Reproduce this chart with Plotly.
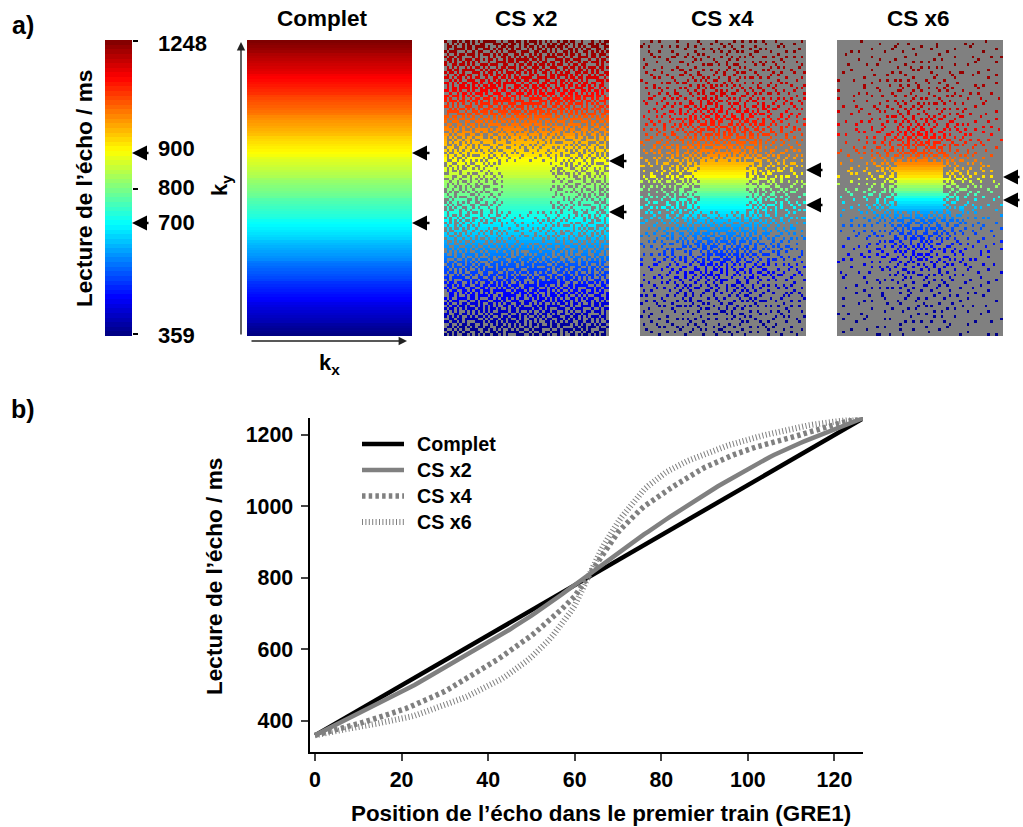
import plotly.graph_objects as go

# Echo readout time (ms) by echo position
COMPLET = [359,366,373,380,387,395,402,409,416,423,430,437,444,451,458,465,472,479,486,493,499,506,513,520,527,534,541,548,555,562,569,576,583,590,597,604,611,618,625,632,640,647,654,661,668,675,682,689,696,703,710,717,724,731,738,745,752,759,766,773,780,787,794,801,808,815,822,829,836,843,850,857,864,871,878,885,892,899,906,913,921,928,935,942,949,956,963,970,977,984,991,998,1005,1012,1019,1026,1033,1040,1047,1054,1061,1068,1075,1082,1089,1096,1103,1110,1117,1124,1131,1138,1145,1152,1159,1166,1173,1180,1187,1194,1200,1207,1214,1221,1228,1235,1241,1248]
CS_X2 = [359,365,371,377,383,389,395,401,407,413,420,426,432,438,444,450,456,462,468,474,480,487,493,500,507,514,520,527,534,541,548,555,561,568,575,582,589,596,603,610,617,624,632,640,648,655,663,670,678,686,694,702,710,718,727,735,744,753,762,771,780,788,796,804,813,822,831,840,850,860,870,878,887,895,904,912,921,929,938,946,954,962,970,978,986,994,1002,1010,1017,1025,1032,1040,1047,1055,1062,1069,1077,1084,1091,1098,1105,1112,1118,1125,1131,1137,1143,1149,1155,1160,1166,1171,1176,1181,1186,1191,1196,1201,1206,1211,1216,1221,1226,1230,1235,1239,1244,1248]
CS_X4 = [359,362,365,369,372,375,379,382,385,389,392,395,399,402,406,410,414,418,421,425,429,434,439,444,449,455,460,466,471,477,482,489,496,503,510,518,525,532,539,547,554,562,570,578,586,595,603,612,621,629,638,648,658,669,679,690,701,712,724,736,748,766,784,803,822,840,859,877,895,911,927,940,953,965,977,988,999,1008,1017,1025,1033,1041,1049,1057,1065,1072,1079,1087,1094,1101,1108,1114,1119,1125,1130,1135,1140,1145,1150,1155,1159,1163,1166,1169,1172,1176,1179,1182,1185,1189,1192,1196,1199,1203,1207,1210,1214,1218,1221,1225,1228,1231,1234,1237,1240,1243,1245,1248]
CS_X6 = [359,362,364,366,369,371,374,376,378,381,383,385,387,389,391,393,395,397,400,402,405,408,411,414,418,422,426,430,434,438,443,447,452,457,462,467,473,479,485,490,495,502,509,516,524,532,541,550,559,568,578,589,600,612,625,639,654,670,687,704,722,748,775,803,826,850,875,897,918,937,955,972,988,1004,1019,1033,1046,1057,1067,1077,1086,1094,1101,1108,1114,1120,1126,1131,1136,1141,1147,1151,1155,1159,1163,1168,1172,1176,1180,1184,1187,1190,1193,1196,1199,1202,1205,1209,1212,1214,1216,1218,1221,1223,1226,1228,1230,1232,1234,1236,1238,1240,1242,1243,1245,1246,1247,1248]
POSITIONS = list(range(128))
SERIES_NAMES = ["Complet", "CS x2", "CS x4", "CS x6"]

# Sampling density per distance band from the k-space centre, estimated from panel a
DENS_X2 = [.80,.80,.70,.62,.58,.55,.52,.50,.50,.48,.48,.48]
DENS_X4 = [.70,.70,.60,.48,.37,.28,.22,.17,.14,.12,.11,.10]
DENS_X6 = [.60,.60,.45,.30,.21,.15,.10,.07,.05,.045,.04,.04]

# Hand-typed placement tile: the exact mask cells cannot be read from the picture
TILE = [
 [ 36,193, 88,241, 12,150,205, 61,118,229, 20,171, 97,248, 45,134],
 [214,107,  3,165, 72,225, 29,183, 84,  7,142,210, 55,  9,190, 78],
 [ 58,158,232, 48,128, 96,246, 41,155,236, 66,112, 32,160,222,101],
 [251, 17, 91,199, 24,176, 10,122,217, 27,186, 76,238, 83, 14,174],
 [125,182, 70,139,254, 59,145, 87, 51,130, 94,  1,147,196, 63,234],
 [ 43,  5,220,109, 38,208, 79,243, 19,168,252,203, 46,116, 25,152],
 [196,136, 64,  0,162, 99,  6,178,111, 62, 35,124, 89,228,172, 74],
 [ 86,244, 30,188,119,226, 53,137,212, 81,156,  4,179, 15, 54,209],
 [ 22,113,153,218, 73, 16,192, 34, 67,240, 21,198, 68,133,247,105],
 [175, 60,249, 47,141, 90,127,231, 11,148,104,223, 39,185, 28,161],
 [ 95,201, 13,120,184, 33,255, 56,170, 92, 49,  8,255,100, 69,219],
 [235, 37,144, 75,  2,215,108, 23,200,126,239,166, 57,143,  0,129],
 [ 52,167,103,224,159, 44,151, 82,  9,213, 71, 31,121,206, 85,180],
 [202, 18,245, 65,115, 26,194,233,131, 42,154,187, 16,242, 40,110],
 [  6,140, 77,177,211, 98, 50, 14,102,250, 60, 93,227, 74,163,216],
 [123,237, 34,  1,146, 80,169,221, 35,173,117, 10,138, 29,106, 55],
]
SHIFT_X2 = [0, 5, 11, 3, 14, 7, 1, 9]
SHIFT_X4 = [4, 13, 2, 8, 0, 15, 6, 10]
SHIFT_X6 = [9, 1, 12, 6, 3, 11, 14, 2]

JET = [[0, "#000084"], [0.125, "#0000ff"], [0.375, "#00ffff"], [0.625, "#ffff00"], [0.875, "#ff0000"], [1, "#800000"]]
ZMIN, ZMAX = 359, 1248
FONT = "Liberation Sans"
W, H = 1023, 827
ROWS, COLS = 114, 64


def dx(a, b):
    return [a / W, b / W]


def dy(top, bottom):
    return [1 - bottom / H, 1 - top / H]


def panel_z(values, dens=None, shift=None):
    z = []
    for r in range(ROWS):
        row = []
        value = values[round(r * (len(values) - 1) / (ROWS - 1))]
        for c in range(COLS):
            keep = True
            if dens is not None and not (23 <= c <= 40 and 48 <= r <= 66):
                d = (((c - 31.5) / 32) ** 2 + ((r - 56.5) / 57) ** 2) ** 0.5
                band = min(int(d * 8), len(dens) - 1)
                t = TILE[(r + shift[c // 16]) % 16][(c + shift[r // 16]) % 16]
                keep = t < dens[band] * 256
            row.append(value if keep else None)
        z.append(row)
    return z


fig = go.Figure()
fig.update_layout(width=W, height=H, margin=dict(l=0, r=0, t=0, b=0), autosize=False,
                  paper_bgcolor="white", plot_bgcolor="white", showlegend=False,
                  font=dict(family=FONT, color="black"))

# Colour bar
levels = [353 + (i + 0.5) * (1251 - 353) / 64 for i in range(64)]
fig.add_trace(go.Heatmap(z=[[v] for v in levels], x=[0], y=levels, colorscale=JET, zmin=ZMIN, zmax=ZMAX,
                         showscale=False, xaxis="x", yaxis="y", hoverinfo="skip"))
fig.update_layout(
    xaxis=dict(domain=dx(105, 132), visible=False, fixedrange=True),
    yaxis=dict(domain=dy(40, 336), anchor="x", side="right", range=[353, 1251], tickvals=[359, 800, 1248],
               showticklabels=False, ticks="outside", ticklen=5, tickwidth=1.5, tickcolor="black",
               showgrid=False, zeroline=False, showline=False),
)

# k-space panels
panels = [
    (COMPLET, None, None, 247, 412),
    (CS_X2, DENS_X2, SHIFT_X2, 444, 609),
    (CS_X4, DENS_X4, SHIFT_X4, 640, 806),
    (CS_X6, DENS_X6, SHIFT_X6, 837, 1003),
]
shapes = []
for i, (vals, dens, shift, x0, x1) in enumerate(panels):
    n = i + 2
    fig.add_trace(go.Heatmap(z=panel_z(vals, dens, shift), colorscale=JET, zmin=ZMIN, zmax=ZMAX, showscale=False,
                             xaxis=f"x{n}", yaxis=f"y{n}", hoverongaps=False, hoverinfo="skip"))
    fig.layout[f"xaxis{n}"] = dict(domain=dx(x0, x1), visible=False, range=[-0.5, COLS - 0.5])
    fig.layout[f"yaxis{n}"] = dict(domain=dy(40, 336), visible=False, range=[-0.5, ROWS - 0.5], anchor=f"x{n}")
    shapes.append(dict(type="rect", xref="paper", yref="paper", x0=x0 / W, x1=x1 / W, y0=1 - 336 / H, y1=1 - 40 / H,
                       fillcolor="#808080", line_width=0, layer="below"))

# Panel b curves
styles = [
    (COMPLET, "black", 4.5, "solid"),
    (CS_X2, "#808080", 4.5, "solid"),
    (CS_X4, "#808080", 5.5, "3.5px,3.2px"),
    (CS_X6, "#808080", 6, "1px,2.4px"),
]
for name, (vals, col, lw, dash) in zip(SERIES_NAMES, styles):
    fig.add_trace(go.Scatter(x=POSITIONS, y=vals, mode="lines", name=name, xaxis="x6", yaxis="y6",
                             line=dict(color=col, width=lw, dash=dash), cliponaxis=False))
tick_font = dict(family=FONT, size=21.4, weight="bold", color="black")
fig.update_layout(
    xaxis6=dict(domain=dx(309.5, 863), range=[-1.27, 126.6], anchor="y6", tickvals=[0, 20, 40, 60, 80, 100, 120],
                ticks="outside", ticklen=7, tickwidth=2, showline=True, linewidth=2, linecolor="black",
                showgrid=False, zeroline=False, tickfont=tick_font),
    yaxis6=dict(domain=dy(417.5, 752), range=[312.4, 1248], anchor="x6", tickvals=[400, 600, 800, 1000, 1200],
                ticks="outside", ticklen=7, tickwidth=2, showline=True, linewidth=2, linecolor="black",
                ticklabelstandoff=3, showgrid=False, zeroline=False, tickfont=tick_font),
)


def text(s, x, y, size=20, angle=0, xanchor="center"):
    fig.add_annotation(text=s, x=x / W, y=1 - y / H, xref="paper", yref="paper", showarrow=False, textangle=angle,
                       xanchor=xanchor, yanchor="middle",
                       font=dict(family=FONT, size=size, weight="bold", color="black"))


def arrow(x_tip, y_tip, x_tail, y_tail, width=2.4, head=2, size=1.25, color="black"):
    fig.add_annotation(x=x_tip / W, y=1 - y_tip / H, ax=x_tail - x_tip, ay=y_tail - y_tip, xref="paper", yref="paper",
                       axref="pixel", ayref="pixel", text="", showarrow=True, arrowhead=head, arrowsize=size,
                       arrowwidth=width, arrowcolor=color)


# Legend key
for name, (vals, col, lw, dash), y in zip(SERIES_NAMES, styles, [444, 470, 496, 522]):
    shapes.append(dict(type="line", xref="paper", yref="paper", x0=362 / W, x1=404 / W, y0=1 - y / H, y1=1 - y / H,
                       line=dict(color=col, width=lw, dash=dash)))
    text(name, 415, y, 19.7, xanchor="left")
fig.update_layout(shapes=shapes)

text("a)", 23, 25, 25)
text("b)", 23, 409, 25)
for label, cx in zip(SERIES_NAMES, [322, 526, 722, 918]):
    text(label, cx, 18.5, 22.5)
text("Lecture de l’écho / ms", 84, 189, 22.6, angle=-90)
for label, y in [("1248", 43), ("900", 148), ("800", 187), ("700", 222), ("359", 336)]:
    text(label, 156, y, 22, xanchor="left")
text("k<sub>y</sub>", 221, 186, 22, angle=-90)
text("k<sub>x</sub>", 329, 364, 22)
text("Lecture de l’écho / ms", 214, 577, 22.6, angle=-90)
text("Position de l’écho dans le premier train (GRE1)", 601, 813, 22.4)

for tip, tail, ys in [(132, 150, (153, 223)), (412, 431, (153, 223)), (609, 628, (161, 212)),
                      (806, 824, (170, 205)), (1003, 1021, (177, 200))]:
    for y in ys:
        arrow(tip, y, tail, y)
arrow(241, 42, 241, 336, width=1.4, head=2, size=1.2, color="#222222")
arrow(407, 341, 250, 341, width=1.4, head=2, size=1.2, color="#222222")

fig.write_html("out.html", config={"displayModeBar": False}, post_script="document.body.style.margin='0';")
